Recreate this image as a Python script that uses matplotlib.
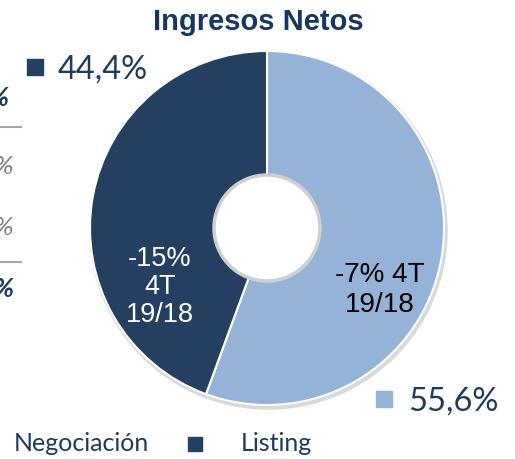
import matplotlib
matplotlib.use("Agg")
import matplotlib.pyplot as plt
from matplotlib.patches import Circle

# data
labels = ["Listing", "Negociación"]
shares = [55.6, 44.4]
share_text = ["55,6%", "44,4%"]
growth_text = ["-7% 4T\n19/18", "-15%\n4T\n19/18"]
colors = ["#95B3D7", "#243F60"]
navy = "#1F3B5C"

W, H = 515, 460
Y = lambda y: H - y  # image rows -> axes units

fig = plt.figure(figsize=(W / 100, H / 100), dpi=100)
ax = fig.add_axes([0, 0, 1, 1])

cx, cy, r, r_in = 267, Y(229), 177, 52

# soft shadow behind the ring
ax.add_patch(Circle((cx + 1.5, cy - 2.5), r + 1.5, color="#d9d9d9", zorder=0))
ax.pie(shares, colors=colors, startangle=90, counterclock=False,
       center=(cx, cy), radius=r,
       wedgeprops=dict(width=r - r_in, edgecolor="white", linewidth=1.5))
ax.add_patch(Circle((cx, cy), r_in + 1, facecolor="white",
                    edgecolor="#cfcfcf", linewidth=2.5, zorder=5))
ax.add_patch(Circle((cx, cy), r_in - 2, facecolor="white",
                    edgecolor="none", zorder=6))

ax.set_xlim(0, W)
ax.set_ylim(0, H)
ax.set_aspect("equal")
ax.axis("off")

ax.text(258, Y(22), "Ingresos Netos", ha="center", va="center",
        fontsize=21, fontweight="bold", color="#17375E",
        family="Liberation Sans")

# labels inside the ring
ax.text(380, Y(290), growth_text[0], ha="center", va="center", fontsize=20,
        color="black", family="Liberation Sans", linespacing=1.2)
ax.text(160, Y(287), growth_text[1], ha="center", va="center", fontsize=19.5,
        color="white", family="Liberation Sans", linespacing=1.12)

# share labels with square markers
ax.plot([35], [Y(68)], marker="s", markersize=11, color=colors[1],
        linestyle="none")
ax.text(58, Y(70), share_text[1], ha="left", va="center", fontsize=23.5,
        color=navy, family="Lato")
ax.plot([384], [Y(400)], marker="s", markersize=11, color=colors[0],
        linestyle="none")
ax.text(408, Y(402), share_text[0], ha="left", va="center", fontsize=23.5,
        color=navy, family="Lato")

# bottom legend (first marker cut off by the crop)
ax.text(14, Y(444), "Negociación", ha="left", va="center", fontsize=18,
        color=navy, family="Lato")
ax.plot([195], [Y(445)], marker="s", markersize=10, color=colors[1],
        linestyle="none")
ax.text(241, Y(444), "Listing", ha="left", va="center", fontsize=18,
        color=navy, family="Lato")

# cropped table fragments on the left edge
frag = [(98, "bold", navy, 8), (166, "normal", "#7f7f7f", 13),
        (228, "normal", "#7f7f7f", 13), (289, "bold", navy, 13)]
for y, w, c, xr in frag:
    ax.text(xr, Y(y), "%", ha="right", va="center", fontsize=19,
            fontweight=w, fontstyle="italic", color=c, family="Lato")
for y in [128, 263]:
    ax.plot([0, 21], [Y(y), Y(y)], color="#a6a6a6", linewidth=1.5)

fig.savefig("out.png", dpi=100)
